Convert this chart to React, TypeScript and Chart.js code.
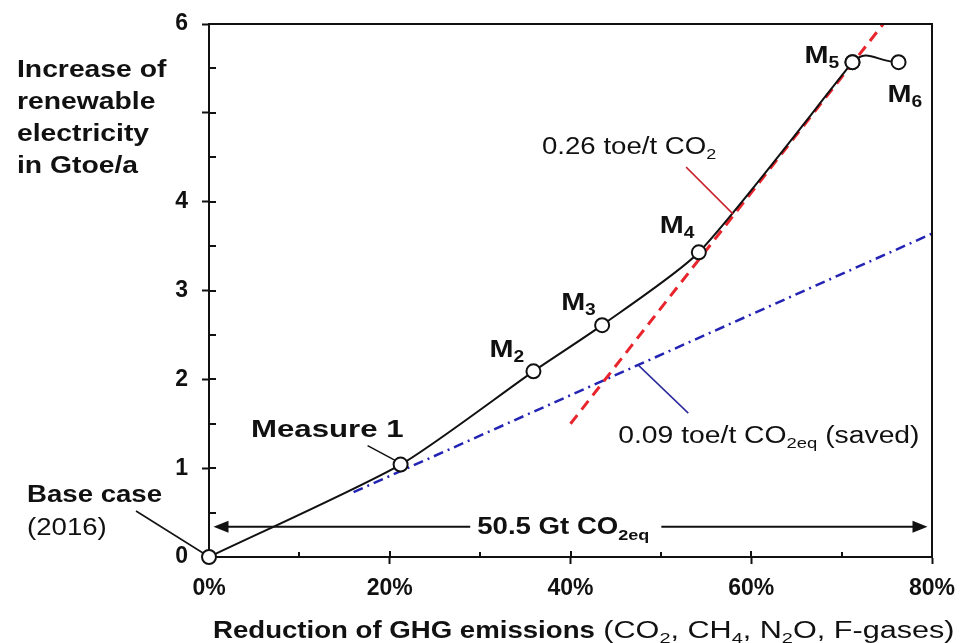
import React, { useEffect, useRef } from 'react';
import { Chart, registerables } from 'chart.js';

Chart.register(...registerables);

// ---- data ----
const measureNames = ['Base case', 'Measure 1', 'M2', 'M3', 'M4', 'M5', 'M6'];
const reductionPct = [0, 21.2, 35.9, 43.5, 54.2, 71.2, 76.3];
const renewableGtoe = [0, 1.04, 2.09, 2.61, 3.43, 5.57, 5.57];

const redLineX = [40, 74.6];
const redLineY = [1.5, 6.0];
const blueLineX = [16, 80];
const blueLineY = [0.73, 3.64];

const arrowSpanX = [0.5, 79.5];
const arrowLevelY = 0.34;

const yLabelValues = [0, 1, 2, 3, 4, 6];
const xLabelValues = [0, 20, 40, 60, 80];

const yTitleLines = ['Increase of', 'renewable', 'electricity', 'in Gtoe/a'];

// ---- styling ----
const FONT = '"Liberation Sans", Arial, Helvetica, sans-serif';
const SX = 1.2;

type Seg = { t: string; size: number; bold?: boolean; sub?: boolean; sx?: number };

function segFont(s: Seg) {
  return `${s.bold ? 'bold ' : ''}${s.size}px ${FONT}`;
}

function richWidth(ctx: CanvasRenderingContext2D, segs: Seg[]) {
  let w = 0;
  segs.forEach((s) => {
    ctx.font = segFont(s);
    w += ctx.measureText(s.t).width * (s.sx ?? SX);
  });
  return w;
}

function drawRich(
  ctx: CanvasRenderingContext2D,
  segs: Seg[],
  x: number,
  y: number,
  align: 'left' | 'right' | 'center' = 'left',
  color = '#111',
  subDy = 5
) {
  const total = richWidth(ctx, segs);
  let cx = align === 'left' ? x : align === 'right' ? x - total : x - total / 2;
  segs.forEach((s) => {
    const sx = s.sx ?? SX;
    ctx.save();
    ctx.font = segFont(s);
    const w = ctx.measureText(s.t).width * sx;
    ctx.translate(cx, y + (s.sub ? subDy : 0));
    ctx.scale(sx, 1);
    ctx.fillStyle = color;
    ctx.textAlign = 'left';
    ctx.textBaseline = 'alphabetic';
    ctx.fillText(s.t, 0, 0);
    ctx.restore();
    cx += w;
  });
  return total;
}

function seg(ctx: CanvasRenderingContext2D, x1: number, y1: number, x2: number, y2: number) {
  ctx.beginPath();
  ctx.moveTo(x1, y1);
  ctx.lineTo(x2, y2);
  ctx.stroke();
}

const annotPlugin = {
  id: 'annot',
  afterDraw(chart: any) {
    const ctx: CanvasRenderingContext2D = chart.ctx;
    const a = chart.chartArea;
    const xs = chart.scales.x;
    const ys = chart.scales.y;
    ctx.save();
    ctx.strokeStyle = '#111';
    ctx.lineWidth = 2;
    ctx.lineCap = 'butt';

    // inner tick marks
    ys.ticks.forEach((t: any) => {
      if (t.value <= 0 || t.value >= 6) return;
      const py = Math.round(ys.getPixelForValue(t.value));
      seg(ctx, a.left, py, a.left + 7, py);
    });
    xs.ticks.forEach((t: any) => {
      if (t.value <= 0 || t.value >= 80) return;
      const px = Math.round(xs.getPixelForValue(t.value));
      const len = t.value % 20 === 0 ? 6 : 5;
      seg(ctx, px, a.bottom, px, a.bottom - len);
    });

    // frame
    seg(ctx, a.left, a.top, a.right + 1, a.top);
    seg(ctx, a.right, a.top, a.right, a.bottom);

    // 50.5 Gt arrow
    const ay = ys.getPixelForValue(arrowLevelY);
    const ax1 = xs.getPixelForValue(arrowSpanX[0]);
    const ax2 = xs.getPixelForValue(arrowSpanX[1]);
    const arrowText: Seg[] = [
      { t: '50.5 Gt CO', size: 23, bold: true },
      { t: '2eq', size: 15, bold: true, sub: true },
    ];
    const tw = richWidth(ctx, arrowText);
    const tcx = xs.getPixelForValue(39.2);
    const tStart = tcx - tw / 2;
    const tEnd = tcx + tw / 2;
    ctx.lineWidth = 2;
    seg(ctx, ax1 + 10, ay, tStart - 7, ay);
    seg(ctx, tEnd + 12, ay, ax2 - 10, ay);
    ctx.fillStyle = '#111';
    ctx.beginPath();
    ctx.moveTo(ax1, ay);
    ctx.lineTo(ax1 + 15, ay - 6);
    ctx.lineTo(ax1 + 15, ay + 6);
    ctx.closePath();
    ctx.fill();
    ctx.beginPath();
    ctx.moveTo(ax2, ay);
    ctx.lineTo(ax2 - 15, ay - 6);
    ctx.lineTo(ax2 - 15, ay + 6);
    ctx.closePath();
    ctx.fill();
    drawRich(ctx, arrowText, tStart, ay + 7, 'left', '#111', 6);

    // point labels
    const pts = reductionPct.map((v, i) => ({
      x: xs.getPixelForValue(v),
      y: ys.getPixelForValue(renewableGtoe[i]),
    }));

    // Base case
    const p0 = pts[0];
    ctx.lineWidth = 1.5;
    seg(ctx, p0.x - 73, p0.y - 46, p0.x - 6, p0.y - 4);
    drawRich(ctx, [{ t: measureNames[0], size: 23, bold: true }], p0.x - 182, p0.y - 55);
    drawRich(ctx, [{ t: '(2016)', size: 23 }], p0.x - 182, p0.y - 22);

    // Measure 1
    const p1 = pts[1];
    seg(ctx, p1.x - 33, p1.y - 19, p1.x - 5, p1.y - 4);
    drawRich(ctx, [{ t: measureNames[1], size: 24, bold: true, sx: 1.3 }], p1.x + 3, p1.y - 28, 'right');

    const mOff = [
      null,
      null,
      { dx: -44, dy: -14 },
      { dx: -41, dy: -15 },
      { dx: -39, dy: -19 },
      { dx: -48, dy: 1 },
      { dx: -11, dy: 40 },
    ];
    for (let i = 2; i < pts.length; i++) {
      const o = mOff[i]!;
      const name = measureNames[i];
      drawRich(
        ctx,
        [
          { t: name.slice(0, 1), size: 24, bold: true },
          { t: name.slice(1), size: 16, bold: true, sub: true },
        ],
        pts[i].x + o.dx,
        pts[i].y + o.dy
      );
    }

    // red annotation
    const rx = xs.getPixelForValue(58);
    const ry = ys.getPixelForValue(3.86);
    ctx.strokeStyle = '#c8202c';
    ctx.lineWidth = 1.5;
    seg(ctx, rx - 47, ry - 47, rx, ry);
    drawRich(
      ctx,
      [
        { t: '0.26 toe/t CO', size: 23 },
        { t: '2', size: 15, sub: true },
      ],
      rx - 17,
      ry - 60,
      'right'
    );

    // blue annotation
    const bx = xs.getPixelForValue(47.5);
    const by = ys.getPixelForValue(2.16);
    ctx.strokeStyle = '#2a2a9c';
    seg(ctx, bx, by, bx + 50, by + 48);
    drawRich(
      ctx,
      [
        { t: '0.09 toe/t CO', size: 23, sx: 1.23 },
        { t: '2eq', size: 15, sub: true, sx: 1.23 },
        { t: ' (saved)', size: 23, sx: 1.23 },
      ],
      bx - 20,
      by + 78
    );

    // y title
    yTitleLines.forEach((line, i) => {
      drawRich(ctx, [{ t: line, size: 23, bold: true, sx: 1.23 }], 17, 77 + i * 32);
    });

    // x title
    const NS = 1.33;
    drawRich(
      ctx,
      [
        { t: 'Reduction of GHG emissions', size: 23, bold: true },
        { t: ' (CO', size: 23, sx: NS },
        { t: '2', size: 15, sub: true, sx: NS },
        { t: ', CH', size: 23, sx: NS },
        { t: '4', size: 15, sub: true, sx: NS },
        { t: ', N', size: 23, sx: NS },
        { t: '2', size: 15, sub: true, sx: NS },
        { t: 'O, F-gases)', size: 23, sx: NS },
      ],
      213,
      638
    );

    ctx.restore();
  },
};

export default function App() {
  const ref = useRef<HTMLCanvasElement>(null);

  useEffect(() => {
    const canvas = ref.current!;
    const mainIdx = [0, 1, 2, 3, 4, 5];
    const arcIdx = [4, 5, 6];
    const chart = new Chart(canvas, {
      type: 'line',
      data: {
        datasets: [
          {
            label: 'GHG reduction path',
            data: mainIdx.map((i) => ({ x: reductionPct[i], y: renewableGtoe[i] })),
            borderColor: '#111',
            borderWidth: 2,
            tension: 0.22,
            pointRadius: 7,
            pointBorderWidth: 2,
            pointBackgroundColor: '#fff',
            pointBorderColor: '#111',
            clip: false as any,
          },
          {
            label: 'GHG reduction path (end)',
            data: arcIdx.map((i) => ({ x: reductionPct[i], y: renewableGtoe[i] })),
            borderColor: '#111',
            borderWidth: 2,
            tension: 0.5,
            segment: {
              borderColor: (c: any) => (c.p0DataIndex === 0 ? 'rgba(0,0,0,0)' : '#111'),
            },
            pointRadius: (c: any) => (c.dataIndex === 0 ? 0 : 7),
            pointBorderWidth: 2,
            pointBackgroundColor: '#fff',
            pointBorderColor: '#111',
            clip: false as any,
          },
          {
            label: '0.26 toe/t CO2',
            data: redLineX.map((v, i) => ({ x: v, y: redLineY[i] })),
            borderColor: '#e8242c',
            borderWidth: 3,
            borderDash: [11, 7],
            pointRadius: 0,
            tension: 0,
          },
          {
            label: '0.09 toe/t CO2eq',
            data: blueLineX.map((v, i) => ({ x: v, y: blueLineY[i] })),
            borderColor: '#2424b4',
            borderWidth: 2.5,
            borderDash: [10, 5, 2, 5],
            pointRadius: 0,
            tension: 0,
          },
        ],
      },
      options: {
        animation: false,
        responsive: false,
        events: [],
        layout: { padding: { top: 24, right: 30, left: 0, bottom: 0 } },
        plugins: { legend: { display: false }, tooltip: { enabled: false } },
        scales: {
          x: {
            type: 'linear',
            min: 0,
            max: 80,
            afterFit: (s: any) => {
              s.height = 86;
              s.paddingLeft = 0;
              s.paddingRight = 0;
            },
            ticks: {
              stepSize: 10,
              autoSkip: false,
              maxRotation: 0,
              padding: 11,
              color: '#111',
              font: { family: FONT, size: 23, weight: 'bold' },
              callback: (v: any) => (xLabelValues.includes(Number(v)) ? `${v}%` : ''),
            },
            grid: {
              drawOnChartArea: false,
              drawTicks: true,
              tickLength: 7,
              tickWidth: 2,
              tickColor: (c: any) =>
                c.tick && xLabelValues.includes(c.tick.value) && c.tick.value !== 0 ? '#111' : 'rgba(0,0,0,0)',
            },
            border: { display: true, color: '#111', width: 2 },
          },
          y: {
            type: 'linear',
            min: 0,
            max: 6,
            afterFit: (s: any) => {
              s.width = 209;
              s.paddingTop = 0;
              s.paddingBottom = 0;
            },
            ticks: {
              stepSize: 0.5,
              autoSkip: false,
              padding: 14,
              color: '#111',
              font: { family: FONT, size: 23, weight: 'bold' },
              callback: (v: any) => (yLabelValues.includes(Number(v)) ? String(v) : ''),
            },
            grid: {
              drawOnChartArea: false,
              drawTicks: true,
              tickLength: 7,
              tickWidth: 2,
              tickColor: (c: any) =>
                c.tick && Number.isInteger(c.tick.value) && c.tick.value !== 0 ? '#111' : 'rgba(0,0,0,0)',
            },
            border: { display: true, color: '#111', width: 2 },
          },
        },
      },
      plugins: [annotPlugin],
    } as any);
    return () => chart.destroy();
  }, []);

  return (
    <div style={{ position: 'absolute', left: 0, top: 0, width: 962, height: 643, background: '#fff' }}>
      <canvas ref={ref} width={962} height={643} style={{ display: 'block', width: 962, height: 643 }} />
    </div>
  );
}
